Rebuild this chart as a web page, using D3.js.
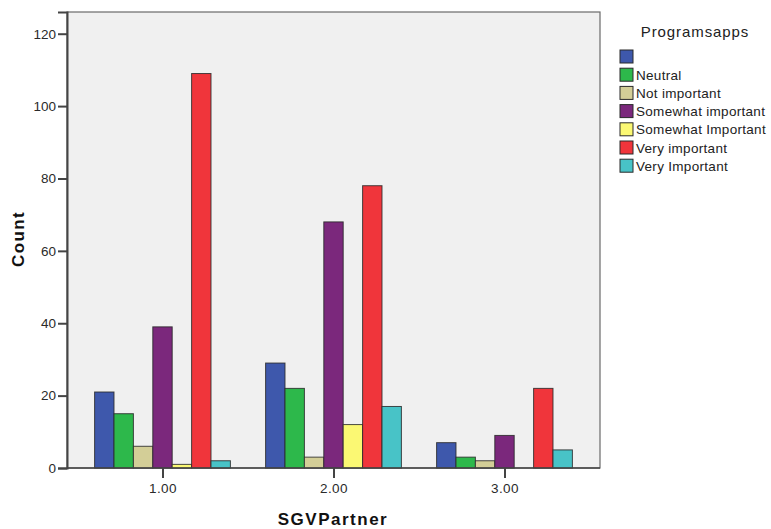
<!DOCTYPE html>
<html><head><meta charset="utf-8">
<script src="https://cdn.jsdelivr.net/npm/d3@7"></script>
<style>
body{margin:0;background:#fff;}
text{font-family:"Liberation Sans",Arial,sans-serif;}
</style></head>
<body><svg id="c" width="771" height="529"></svg>
<script>
const categories = ["1.00","2.00","3.00"];
const seriesNames = ["", "Neutral", "Not important", "Somewhat important", "Somewhat Important", "Very important", "Very Important"];
const seriesColors = ["#3e58ac","#2db84b","#d3ce97","#7b287c","#fbf873","#f0353b","#48c3c7"];
// values[seriesIndex][categoryIndex]
const sBlank    = [21, 29, 7];
const sNeutral  = [15, 22, 3];
const sNotImp   = [6, 3, 2];
const sSomeImp  = [39, 68, 9];
const sSomeImp2 = [1, 12, 0];
const sVeryImp  = [109, 78, 22];
const sVeryImp2 = [2, 17, 5];
const values = [sBlank, sNeutral, sNotImp, sSomeImp, sSomeImp2, sVeryImp, sVeryImp2];
const yTicks = [0,20,40,60,80,100,120];

const svg = d3.select("#c");
const L=67, R=600, T=12, B=468;

const x = d3.scalePoint().domain(categories).range([L,R]).padding(0.5585);
const y = d3.scaleLinear().domain([0,126]).range([B,T]);
const barW = 19.4;
const xs = d3.scaleBand().domain(d3.range(seriesNames.length)).range([-barW*3.5, barW*3.5]);

svg.append("rect").attr("x",L).attr("y",T).attr("width",R-L).attr("height",B-T)
  .attr("fill","#f0f0f0").attr("stroke","#6a6a6a").attr("stroke-width",1.2);

const data=[];
values.forEach((vals,si)=>vals.forEach((v,ci)=>{ if(v>0) data.push({si,ci,v}); }));
svg.append("g").selectAll("rect").data(data).join("rect")
  .attr("x",d=>x(categories[d.ci])+xs(d.si))
  .attr("y",d=>y(d.v))
  .attr("width",xs.bandwidth())
  .attr("height",d=>B-y(d.v))
  .attr("fill",d=>seriesColors[d.si])
  .attr("stroke","#2a2a2a").attr("stroke-width",1).attr("stroke-opacity",0.85);

// Y axis
const ya = svg.append("g").attr("transform",`translate(${L},0)`)
  .call(d3.axisLeft(y).tickValues(yTicks).tickSize(9).tickPadding(2).tickFormat(d3.format("d")));
ya.select(".domain").attr("stroke","#444").attr("stroke-width",2);
ya.selectAll(".tick line").attr("stroke","#444").attr("stroke-width",2);
ya.selectAll(".tick text").attr("font-size",13.5).attr("fill","#2a2a2a").attr("font-family","Liberation Sans, Arial, sans-serif");

// X axis
const xa = svg.append("g").attr("transform",`translate(0,${B})`)
  .call(d3.axisBottom(x).tickSize(10).tickPadding(5));
xa.select(".domain").attr("stroke","#444").attr("stroke-width",1.5).attr("d",`M${L},0H${R}`);
xa.selectAll(".tick line").attr("stroke","#444").attr("stroke-width",2);
xa.selectAll(".tick text").attr("font-size",13.5).attr("letter-spacing",0.4).attr("fill","#2a2a2a").attr("font-family","Liberation Sans, Arial, sans-serif");

// Axis titles
svg.append("text").attr("transform","translate(24,239) rotate(-90)").attr("text-anchor","middle")
  .attr("font-size",17).attr("font-weight","bold").attr("letter-spacing",1.4).attr("fill","#111").text("Count");
svg.append("text").attr("x",333).attr("y",525).attr("text-anchor","middle")
  .attr("font-size",17).attr("font-weight","bold").attr("letter-spacing",1.5).attr("fill","#111").text("SGVPartner");

// Legend
svg.append("text").attr("x",695).attr("y",37).attr("text-anchor","middle")
  .attr("font-size",15).attr("letter-spacing",0.9).attr("fill","#222").text("Programsapps");
const lg = svg.append("g").selectAll("g").data(seriesNames).join("g")
  .attr("transform",(d,i)=>`translate(620,${50+i*18.2})`);
lg.append("rect").attr("width",13).attr("height",13)
  .attr("fill",(d,i)=>seriesColors[i]).attr("stroke","#2a2a2a").attr("stroke-width",1);
lg.append("text").attr("x",16).attr("y",11.5).attr("font-size",13.5).attr("letter-spacing",0.3).attr("fill","#222").text(d=>d);
</script></body></html>
